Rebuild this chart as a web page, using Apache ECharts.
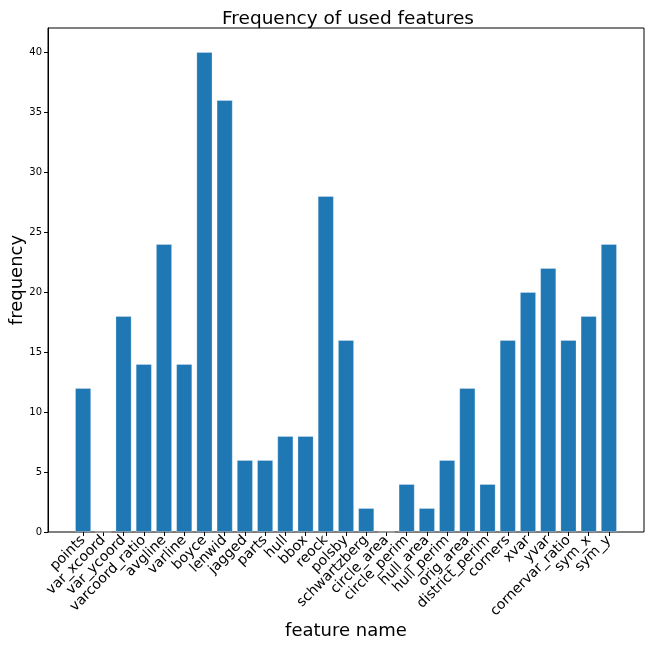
<!DOCTYPE html>
<html lang="en">

<head>
  <meta charset="utf-8">
  <title>Frequency of used features</title>
  <script src="https://cdn.jsdelivr.net/npm/echarts@6/dist/echarts.min.js"></script>
  <style>
    body {
      margin: 0;
      background: white;
      overflow: hidden;
    }

    #chart {
      width: 654px;
      height: 654px;
    }
  </style>
</head>

<body>
  <div id="chart"></div>

  <script>
    // --- Data.

    // Feature names, in the order they appear along the x axis.
    const FEATURES = [
      'points', 'var_xcoord', 'var_ycoord', 'varcoord_ratio', 'avgline',
      'varline', 'boyce', 'lenwid', 'jagged', 'parts', 'hull', 'bbox',
      'reock', 'polsby', 'schwartzberg', 'circle_area', 'circle_perim',
      'hull_area', 'hull_perim', 'orig_area', 'district_perim', 'corners',
      'xvar', 'yvar', 'cornervar_ratio', 'sym_x', 'sym_y'
    ];

    // How often each feature was used.
    const FREQUENCIES = [
      12, 0, 18, 14, 24,
      14, 40, 36, 6, 6, 8, 8,
      28, 16, 2, 0, 4,
      2, 6, 12, 4, 16,
      20, 22, 16, 18, 24
    ];

    // Tick values on the frequency axis.
    const Y_TICKS = [0, 5, 10, 15, 20, 25, 30, 35, 40];

    // --- Layout.

    const FONT = 'DejaVu Sans';
    const BAR_COLOR = '#1f77b4';
    const Y_MAX = 42;

    // The frame spans the padded x range (-1.74 .. 27.74 in bar units),
    // the bars live in an inner grid that covers exactly the categories.
    const FRAME = { left: 48, right: 10, top: 28, bottom: 122 };
    const UNIT = (654 - FRAME.left - FRAME.right) / 29.48;
    const INSET = Math.round((1.74 - 0.5) * UNIT);

    const chart = echarts.init(document.getElementById('chart'));

    chart.setOption({
      animation: false,
      textStyle: { fontFamily: FONT, color: '#000' },
      title: {
        text: 'Frequency of used features',
        left: FRAME.left + (654 - FRAME.left - FRAME.right) / 2 - 3,
        textAlign: 'center',
        top: 5,
        textStyle: { fontFamily: FONT, fontSize: 18.5, fontWeight: 'normal', color: '#000' }
      },
      grid: [
        // The frame around the plot.
        {
          left: FRAME.left, right: FRAME.right, top: FRAME.top, bottom: FRAME.bottom,
          outerBoundsMode: 'none', containLabel: false,
          show: true, borderColor: '#000', borderWidth: 1, backgroundColor: 'transparent'
        },
        // The bar area.
        {
          left: FRAME.left + INSET, right: FRAME.right + INSET,
          top: FRAME.top, bottom: FRAME.bottom,
          outerBoundsMode: 'none', containLabel: false
        }
      ],
      xAxis: [
        { type: 'value', gridIndex: 0, min: 0, max: 1, show: false },
        {
          type: 'category',
          gridIndex: 1,
          data: FEATURES,
          name: 'feature name',
          nameLocation: 'middle',
          nameGap: 90,
          nameMoveOverlap: false,
          nameTextStyle: { fontFamily: FONT, fontSize: 18, color: '#000' },
          axisLine: { show: false },
          axisTick: { show: true, alignWithLabel: true, length: 4, lineStyle: { color: '#000' } },
          axisLabel: {
            interval: 0, rotate: 45, margin: 6,
            fontFamily: FONT, fontSize: 14, color: '#000'
          },
          splitLine: { show: false }
        }
      ],
      yAxis: [
        {
          type: 'value',
          gridIndex: 0,
          min: 0,
          max: Y_MAX,
          name: 'frequency',
          nameLocation: 'middle',
          nameGap: 22,
          nameMoveOverlap: false,
          nameTextStyle: { fontFamily: FONT, fontSize: 18, color: '#000' },
          axisLine: { show: true, lineStyle: { color: '#000' } },
          axisTick: { show: true, length: 4, customValues: Y_TICKS, lineStyle: { color: '#000' } },
          axisLabel: {
            fontFamily: FONT, fontSize: 10, color: '#000', margin: 6,
            customValues: Y_TICKS
          },
          splitLine: { show: false }
        },
        { type: 'value', gridIndex: 1, min: 0, max: Y_MAX, show: false }
      ],
      series: [
        {
          type: 'bar',
          xAxisIndex: 1,
          yAxisIndex: 1,
          data: FREQUENCIES,
          barWidth: '80%',
          itemStyle: {
            color: BAR_COLOR,
            borderColor: 'rgba(255,255,255,0.25)',
            borderWidth: 1
          }
        }
      ]
    });
  </script>
</body>

</html>
